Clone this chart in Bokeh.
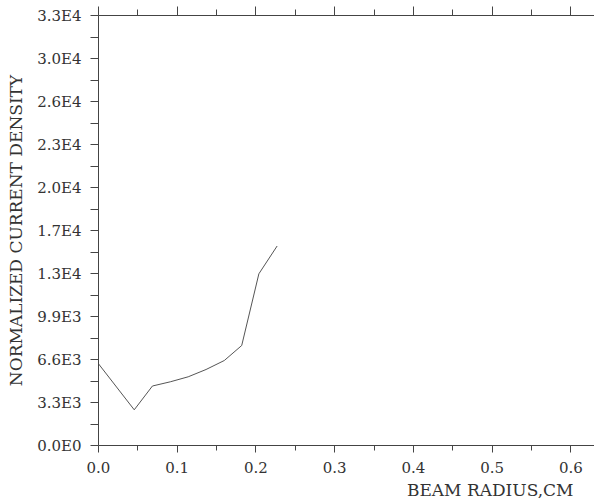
from bokeh.plotting import figure
from bokeh.models import LinearAxis, FixedTicker, Range1d, Title
from bokeh.embed import file_html
from bokeh.resources import INLINE

# Data
radius_cm = [0.0, 0.0454, 0.0685, 0.0912, 0.1139, 0.1366, 0.1598, 0.1819, 0.2037, 0.2269]
current_density = [6270, 2740, 4566, 4888, 5272, 5832, 6523, 7674, 13176, 15310]

x_ticks = [0.0, 0.1, 0.2, 0.3, 0.4, 0.5, 0.6]
x_minor = [0.05, 0.15, 0.25, 0.35, 0.45, 0.55]
y_ticks = [0, 3300, 6600, 9900, 13200, 16500, 19800, 23100, 26400, 29700, 33000]
y_minor = [1650, 4950, 8250, 11550, 14850, 18150, 21450, 24750, 28050, 31350]
y_tick_labels = ["0.0E0", "3.3E3", "6.6E3", "9.9E3", "1.3E4", "1.7E4",
                 "2.0E4", "2.3E4", "2.6E4", "3.0E4", "3.3E4"]
x_tick_labels = ["0.0", "0.1", "0.2", "0.3", "0.4", "0.5", "0.6"]

FONT = "DejaVu Serif"
AX = "#444444"
TXT = "#333333"

p = figure(width=594, height=502, output_backend="svg", toolbar_location=None,
           x_axis_location=None, y_axis_location=None,
           x_range=Range1d(0, 0.63), y_range=Range1d(0, 33000),
           min_border_left=98, min_border_right=0, min_border_top=15, min_border_bottom=57)
p.outline_line_color = None
p.grid.visible = False
p.background_fill_color = "white"
p.border_fill_color = "white"

xt = FixedTicker(ticks=x_ticks, minor_ticks=x_minor)
yt = FixedTicker(ticks=y_ticks, minor_ticks=y_minor)

bottom = LinearAxis(ticker=xt)
bottom.major_label_overrides = {t: l for t, l in zip(x_ticks, x_tick_labels)}
bottom.major_tick_out = 7
bottom.major_tick_in = 0
bottom.minor_tick_out = 5
bottom.minor_tick_in = 0
bottom.major_label_standoff = 9
p.add_layout(bottom, "below")

xlabel = Title(text="BEAM RADIUS,CM", align="right", offset=21,
               text_font=FONT, text_font_size="17px", text_font_style="normal",
               text_color=TXT, standoff=4)
p.add_layout(xlabel, "below")

left = LinearAxis(ticker=yt, axis_label="NORMALIZED CURRENT DENSITY")
left.major_label_overrides = {t: l for t, l in zip(y_ticks, y_tick_labels)}
left.major_tick_out = 8
left.major_tick_in = 0
left.minor_tick_out = 8
left.minor_tick_in = 0
left.major_label_standoff = 9
left.axis_label_standoff = 8
p.add_layout(left, "left")

top = LinearAxis(ticker=xt)
top.major_label_overrides = {t: "" for t in x_ticks}
top.major_label_standoff = 0
top.major_tick_out = 9
top.major_tick_in = 0
top.minor_tick_out = 6
top.minor_tick_in = 0
p.add_layout(top, "above")

for ax in (bottom, left, top):
    ax.axis_line_color = AX
    ax.major_tick_line_color = AX
    ax.minor_tick_line_color = AX
    ax.major_label_text_font = FONT
    ax.major_label_text_color = TXT
    ax.major_label_text_font_size = "15px"
    ax.axis_label_text_font = FONT
    ax.axis_label_text_color = TXT
    ax.axis_label_text_font_style = "normal"
    ax.axis_label_text_font_size = "17px"

p.line(radius_cm, current_density, line_color="#555555", line_width=1)

open("out.html", "w").write(file_html(p, INLINE))
